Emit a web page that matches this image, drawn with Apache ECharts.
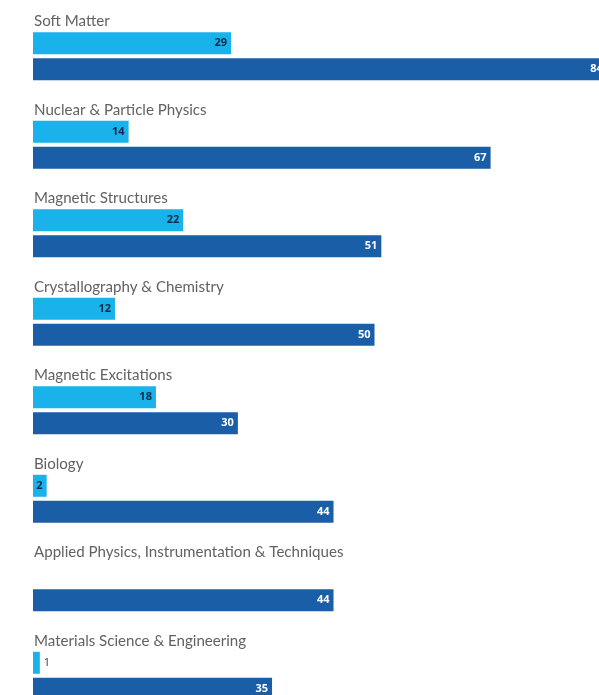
<!DOCTYPE html>
<html>
<head>
<meta charset="utf-8">
<script src="https://cdn.jsdelivr.net/npm/echarts@6/dist/echarts.min.js"></script>
<style>
  html, body { margin: 0; padding: 0; background: #ffffff; }
  #chart { width: 599px; height: 695px; }
</style>
</head>
<body>
<div id="chart"></div>
<script>
// Research areas, top to bottom
const categories = [
  'Soft Matter',
  'Nuclear & Particle Physics',
  'Magnetic Structures',
  'Crystallography & Chemistry',
  'Magnetic Excitations',
  'Biology',
  'Applied Physics, Instrumentation & Techniques',
  'Materials Science & Engineering'
];
// Upper (light) bar per area; null where there is none
const lightValues = [29, 14, 22, 12, 18, 2, null, 1];
// Lower (dark) bar per area
const darkValues = [84, 67, 51, 50, 30, 44, 44, 35];

const LIGHT = '#19b2ea';
const DARK = '#1b5ea8';
const TITLE_FONT = 'Lato, "Open Sans", sans-serif';
const VALUE_FONT = '"Open Sans", "Noto Sans", sans-serif';

const chart = echarts.init(document.getElementById('chart'), null, { renderer: 'canvas' });

// Narrow bars are too small to hold their number, so it goes just past the end.
const lightData = lightValues.map(v => {
  if (v === null) return '-';
  if (v < 2) {
    return { value: v, label: { position: 'right', distance: 4, color: '#333333', fontWeight: 'normal' } };
  }
  return v;
});

chart.setOption({
  animation: false,
  grid: { left: 33, top: 12, width: 683, height: 708, outerBoundsMode: 'none', containLabel: false },
  xAxis: {
    type: 'value', min: 0, max: 100,
    show: false
  },
  yAxis: {
    type: 'category',
    data: categories,
    inverse: true,
    axisLine: { show: false },
    axisTick: { show: false },
    splitLine: { show: false },
    axisLabel: {
      inside: true,
      margin: 1,
      align: 'left',
      verticalAlign: 'middle',
      // area name sits above its pair of bars
      formatter: v => '{t|' + v + '}\n{g|}',
      rich: {
        t: {
          color: '#626262',
          fontFamily: TITLE_FONT,
          fontSize: 15.1,
          lineHeight: 14
        },
        g: { height: 70, lineHeight: 70 }
      }
    }
  },
  series: [
    {
      type: 'bar',
      data: lightData,
      barWidth: 22,
      barGap: '18%',
      itemStyle: { color: LIGHT },
      label: {
        show: true,
        position: 'insideRight',
        distance: 4,
        color: '#112a45',
        fontFamily: VALUE_FONT,
        fontWeight: 'bold',
        fontSize: 11
      }
    },
    {
      type: 'bar',
      data: darkValues,
      barWidth: 22,
      itemStyle: { color: DARK },
      label: {
        show: true,
        position: 'insideRight',
        distance: 4,
        color: '#ffffff',
        fontFamily: VALUE_FONT,
        fontWeight: 'bold',
        fontSize: 11
      }
    }
  ]
});
</script>
</body>
</html>
